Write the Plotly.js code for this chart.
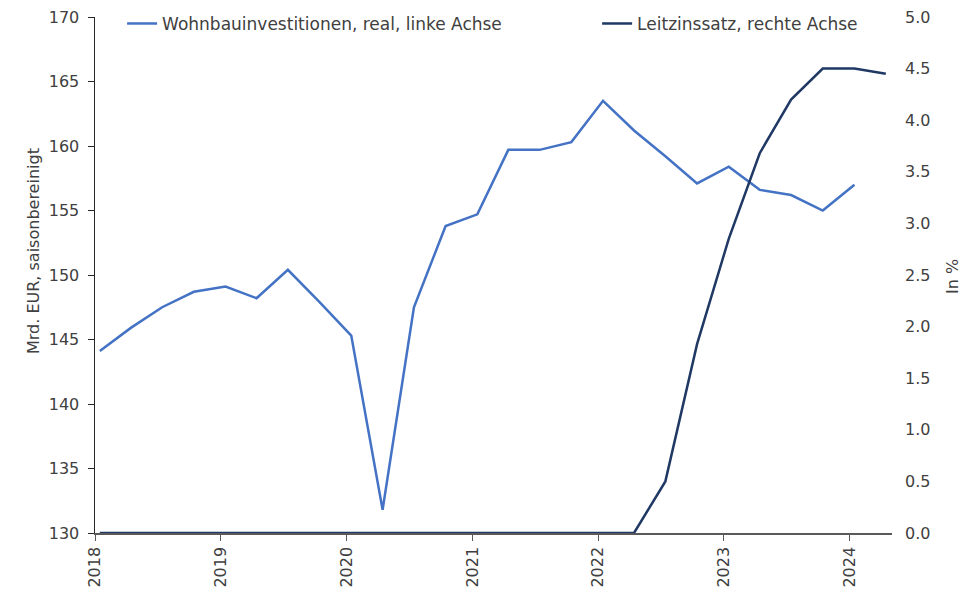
<!DOCTYPE html>
<html>
<head>
<meta charset="utf-8">
<script src="https://cdn.plot.ly/plotly-3.0.1.min.js"></script>
<style>
html,body{margin:0;padding:0;background:#fff;}
#chart{width:976px;height:593px;}
</style>
</head>
<body>
<div id="chart"></div>
<script>
// Quarterly observation dates (mid-first-month of each quarter)
const quarterDates = [
  '2018-01-15','2018-04-15','2018-07-15','2018-10-15',
  '2019-01-15','2019-04-15','2019-07-15','2019-10-15',
  '2020-01-15','2020-04-15','2020-07-15','2020-10-15',
  '2021-01-15','2021-04-15','2021-07-15','2021-10-15',
  '2022-01-15','2022-04-15','2022-07-15','2022-10-15',
  '2023-01-15','2023-04-15','2023-07-15','2023-10-15',
  '2024-01-15','2024-04-15'
];
// Wohnbauinvestitionen, real (Mrd. EUR, saisonbereinigt), 2018Q1-2024Q1
const wohnbau = [144.1, 145.9, 147.5, 148.7, 149.1, 148.2, 150.4, 147.9, 145.3, 131.8,
                 147.5, 153.8, 154.7, 159.7, 159.7, 160.3, 163.5, 161.2, 159.2, 157.1,
                 158.4, 156.6, 156.2, 155.0, 157.0];
// Leitzinssatz (in %), 2018Q1-2024Q2
const leitzins = [0, 0, 0, 0, 0, 0, 0, 0, 0, 0, 0, 0, 0, 0, 0, 0, 0, 0,
                  0.5, 1.83, 2.85, 3.68, 4.2, 4.5, 4.5, 4.45];
const seriesNames = ['Wohnbauinvestitionen, real, linke Achse', 'Leitzinssatz, rechte Achse'];
const leftTitle = 'Mrd. EUR, saisonbereinigt';
const rightTitle = 'In %';
const leftTicks = [130, 135, 140, 145, 150, 155, 160, 165, 170];
const rightTicks = [0, 0.5, 1, 1.5, 2, 2.5, 3, 3.5, 4, 4.5, 5];

const FONT = 'DejaVu Sans';
const txt = '#404040';

const traces = [
  {
    x: quarterDates.slice(0, wohnbau.length), y: wohnbau, name: seriesNames[0],
    type: 'scatter', mode: 'lines', yaxis: 'y', legend: 'legend',
    line: {color: '#4472C4', width: 2.5}
  },
  {
    x: quarterDates.slice(0, leitzins.length), y: leitzins, name: seriesNames[1],
    type: 'scatter', mode: 'lines', yaxis: 'y2', legend: 'legend2',
    line: {color: '#1F3864', width: 2.5}
  }
];

const legendFont = {family: FONT, size: 17, color: txt};
const layout = {
  width: 976, height: 593,
  margin: {l: 95, r: 84, t: 17, b: 60, autoexpand: false},
  paper_bgcolor: '#fff', plot_bgcolor: '#fff',
  font: {family: FONT, size: 16, color: txt},
  showlegend: true,
  legend: {
    orientation: 'h', x: 0.034, xanchor: 'left',
    yref: 'container', y: 0.99, yanchor: 'top',
    font: legendFont, bgcolor: 'rgba(0,0,0,0)'
  },
  legend2: {
    orientation: 'h', x: 0.630, xanchor: 'left',
    yref: 'container', y: 0.99, yanchor: 'top',
    font: legendFont, bgcolor: 'rgba(0,0,0,0)'
  },
  xaxis: {
    type: 'date', range: ['2018-01-01', '2024-05-03'],
    tick0: '2018-01-01', dtick: 'M12', tickformat: '%Y', tickangle: -90,
    showgrid: false, zeroline: false,
    showline: true, linecolor: '#595959', linewidth: 1.5,
    ticks: 'outside', ticklen: 6, tickcolor: '#595959',
    tickfont: {family: FONT, size: 16, color: txt}
  },
  yaxis: {
    range: [130, 170], tickvals: leftTicks, ticktext: leftTicks.map(String),
    showgrid: false, zeroline: false,
    showline: true, linecolor: '#262626', linewidth: 1.5,
    ticks: 'outside', ticklen: 6, tickcolor: '#262626',
    ticklabelstandoff: 5,
    tickfont: {family: FONT, size: 16, color: txt}
  },
  yaxis2: {
    range: [0, 5], tickvals: rightTicks, ticktext: rightTicks.map(v => v.toFixed(1)),
    overlaying: 'y', side: 'right',
    showgrid: false, zeroline: false, showline: false, ticks: '',
    ticklabelstandoff: 12,
    tickfont: {family: FONT, size: 16, color: txt}
  },
  annotations: [
    {text: leftTitle, xref: 'paper', yref: 'paper', x: -62 / 797, y: (533 - 251) / 516,
     xanchor: 'center', yanchor: 'middle', textangle: -90, showarrow: false,
     font: {family: FONT, size: 16, color: txt}},
    {text: rightTitle, xref: 'paper', yref: 'paper', x: 1 + 60 / 797, y: (533 - 277) / 516,
     xanchor: 'center', yanchor: 'middle', textangle: -90, showarrow: false,
     font: {family: FONT, size: 16, color: txt}}
  ]
};

Plotly.newPlot('chart', traces, layout, {displayModeBar: false, staticPlot: true});
</script>
</body>
</html>
